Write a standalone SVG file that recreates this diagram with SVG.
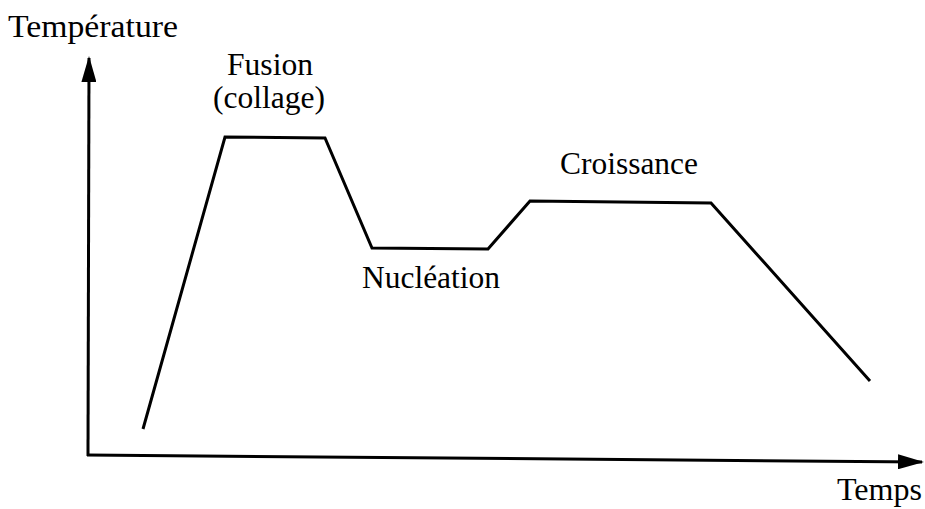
<svg xmlns="http://www.w3.org/2000/svg" width="925" height="509" viewBox="0 0 925 509">
<style>
.ax{stroke:#000;stroke-width:3;fill:none}
.cv{stroke:#000;stroke-width:3;fill:none;stroke-linejoin:miter}
.lb{font-family:"Liberation Serif","Times New Roman",Times,serif;font-size:32px;fill:#000}
</style>
<defs>
<marker id="ah" markerWidth="26" markerHeight="15" refX="24" refY="7.5" orient="auto" markerUnits="userSpaceOnUse">
<path d="M0,0 L26,7.5 L0,15 z" fill="#000"/>
</marker>
</defs>
<g id="axes">
<path class="ax" d="M88,456 L89,58" marker-end="url(#ah)"/>
<path class="ax" d="M87,455 L922,462" marker-end="url(#ah)"/>
</g>
<g id="connectors">
<path class="cv" d="M143,429 L225,137 L325,138 L372,248 L488,249 L530,201 L711,203 L870,381"/>
</g>
<g id="labels">
<text class="lb" x="8" y="37" textLength="170" lengthAdjust="spacingAndGlyphs">Température</text>
<text class="lb" x="227" y="75" textLength="86" lengthAdjust="spacingAndGlyphs">Fusion</text>
<text class="lb" x="213" y="108" textLength="112" lengthAdjust="spacingAndGlyphs">(collage)</text>
<text class="lb" x="560" y="174" textLength="138" lengthAdjust="spacingAndGlyphs">Croissance</text>
<text class="lb" x="362" y="288" textLength="138" lengthAdjust="spacingAndGlyphs">Nucléation</text>
<text class="lb" x="837" y="500" textLength="85" lengthAdjust="spacingAndGlyphs">Temps</text>
</g>
</svg>
